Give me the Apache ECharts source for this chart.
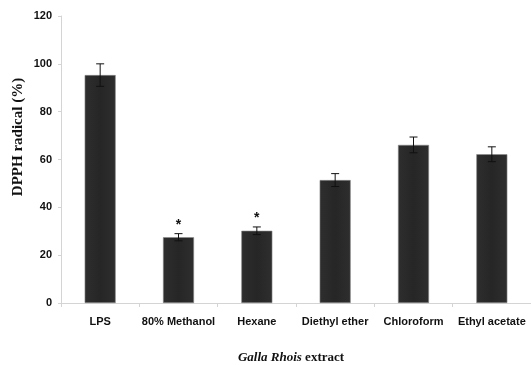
<!DOCTYPE html>
<html>
<head>
<meta charset="utf-8">
<script src="https://cdn.jsdelivr.net/npm/echarts@6/dist/echarts.min.js"></script>
<style>
html,body{margin:0;padding:0;background:#fff;}
#c{width:531px;height:365px;}
</style>
</head>
<body>
<div id="c"></div>
<script>
const categories = ['LPS', '80% Methanol', 'Hexane', 'Diethyl ether', 'Chloroform', 'Ethyl acetate'];
const values = [95.3, 27.5, 30.2, 51.4, 66.1, 62.2];
const errors = [4.7, 1.5, 1.6, 2.7, 3.3, 3.1];
const significance = ['', '*', '*', '', '', ''];
const yTicks = [0, 20, 40, 60, 80, 100, 120];

const chart = echarts.init(document.getElementById('c'), null, {renderer: 'canvas'});

const errData = values.map((v, i) => [i, v - errors[i], v + errors[i]]);
const starData = values.map((v, i) => [i, v + errors[i], significance[i]]);

chart.setOption({
  animation: false,
  backgroundColor: '#fff',
  grid: {left: 61, right: -1, top: 16, bottom: 62, containLabel: false},
  xAxis: {
    type: 'category',
    data: categories,
    axisLine: {lineStyle: {color: '#d4d4d4', width: 1}},
    axisTick: {show: true, length: 4, lineStyle: {color: '#d4d4d4'}},
    axisLabel: {
      color: '#111', fontFamily: 'Liberation Sans, Arial, sans-serif',
      fontWeight: 'bold', fontSize: 11, margin: 13, interval: 0
    },
    splitLine: {show: false}
  },
  yAxis: {
    type: 'value',
    min: yTicks[0], max: yTicks[yTicks.length - 1], interval: 20,
    axisLine: {show: true, lineStyle: {color: '#d4d4d4', width: 1}},
    axisTick: {show: true, length: 3, lineStyle: {color: '#d4d4d4'}},
    axisLabel: {
      color: '#111', fontFamily: 'Liberation Sans, Arial, sans-serif',
      fontWeight: 'bold', fontSize: 11, margin: 9
    },
    splitLine: {show: false}
  },
  graphic: [
    {
      type: 'text',
      x: 18, y: 137,
      rotation: Math.PI / 2,
      style: {
        text: 'DPPH radical (%)',
        font: 'bold 15px "Liberation Serif", "Times New Roman", serif',
        fill: '#111',
        textAlign: 'center',
        textVerticalAlign: 'middle'
      }
    },
    {
      type: 'text',
      x: 291, y: 358,
      style: {
        rich: {
          i: {font: 'italic bold 13px "Liberation Serif", "Times New Roman", serif', fill: '#111'},
          b: {font: 'bold 13px "Liberation Serif", "Times New Roman", serif', fill: '#111'}
        },
        text: '{i|Galla Rhois}{b| extract}',
        textAlign: 'center',
        textVerticalAlign: 'middle'
      }
    }
  ],
  series: [
    {
      type: 'bar',
      data: values,
      barWidth: 31,
      itemStyle: {
        color: new echarts.graphic.LinearGradient(0, 0, 1, 0, [
          {offset: 0, color: '#2e2e2e'},
          {offset: 0.5, color: '#262626'},
          {offset: 1, color: '#2e2e2e'}
        ]),
        borderColor: '#8a8a8a',
        borderWidth: 0.6
      },
      z: 2
    },
    {
      type: 'custom',
      data: errData,
      z: 5,
      renderItem: function (params, api) {
        const x = api.value(0);
        const lo = api.coord([x, api.value(1)]);
        const hi = api.coord([x, api.value(2)]);
        const cap = 4;
        const st = {stroke: '#111', lineWidth: 1};
        return {
          type: 'group',
          children: [
            {type: 'line', shape: {x1: hi[0], y1: hi[1], x2: lo[0], y2: lo[1]}, style: st},
            {type: 'line', shape: {x1: hi[0] - cap, y1: hi[1], x2: hi[0] + cap, y2: hi[1]}, style: st},
            {type: 'line', shape: {x1: lo[0] - cap, y1: lo[1], x2: lo[0] + cap, y2: lo[1]}, style: st}
          ]
        };
      }
    },
    {
      type: 'custom',
      data: starData,
      z: 6,
      renderItem: function (params, api) {
        const x = api.value(0);
        const p = api.coord([x, api.value(1)]);
        return {
          type: 'text',
          x: p[0], y: p[1] - 9,
          style: {
            text: starData[params.dataIndex][2],
            font: 'bold 14px "Liberation Sans", Arial, sans-serif',
            fill: '#111',
            textAlign: 'center',
            textVerticalAlign: 'middle'
          }
        };
      }
    }
  ]
});
</script>
</body>
</html>
